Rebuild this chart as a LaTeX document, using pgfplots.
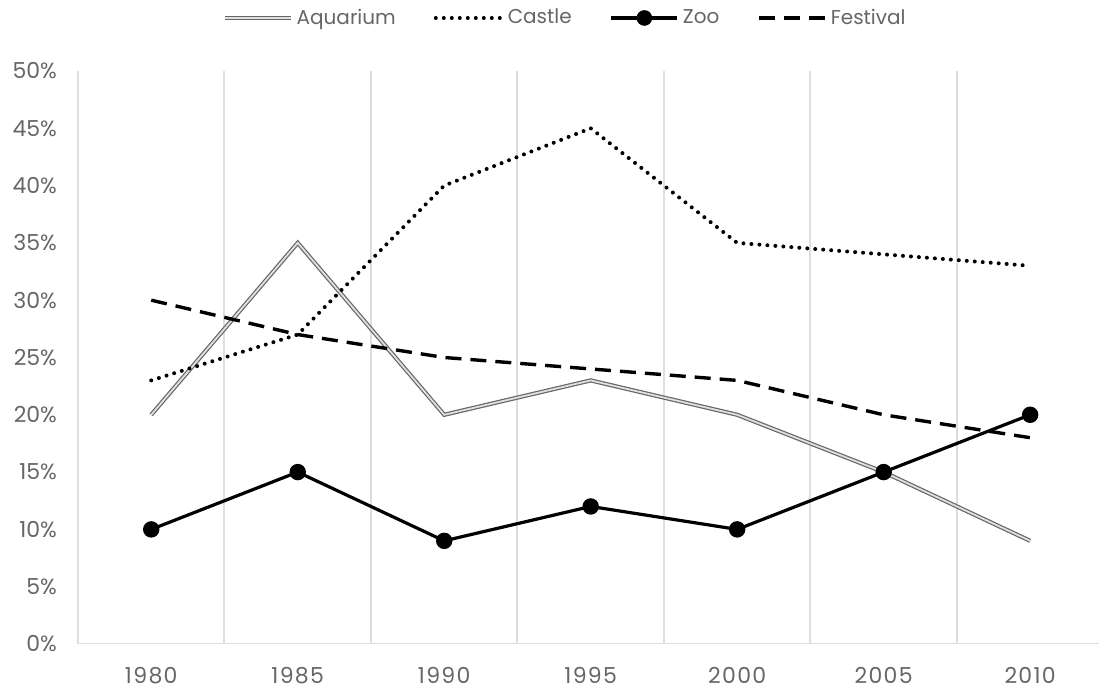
\documentclass[border=0pt]{standalone}
\usepackage{fontspec}
\setmainfont{Poppins}
\usepackage{pgfplots}
\pgfplotsset{compat=1.18}
\begin{document}
\begin{tikzpicture}
\useasboundingbox (0,0) rectangle (549.5pt,344pt);
\begin{axis}[
  at={(39pt,22pt)}, anchor=south west,
  scale only axis, width=510.5pt, height=286.5pt,
  xmin=-0.5, xmax=6.47, ymin=0, ymax=50,
  xtick={0,...,6},
  xticklabels={1980,1985,1990,1995,2000,2005,2010},
  minor xtick={-0.5,0.5,...,5.5},
  xminorgrids=true,
  minor grid style={black!13, line width=1pt},
  ytick={0,5,...,50},
  yticklabel={\pgfmathprintnumber{\tick}\%},
  /pgf/number format/assume math mode=true,
  axis line style={draw=none},
  tick style={draw=none},
  ticklabel style={font=\fontsize{11}{13}\selectfont, text=black!60},
  xticklabel style={yshift=-8pt, font=\fontsize{11}{13}\selectfont\addfontfeatures{LetterSpace=6}},
  yticklabel style={xshift=-7pt},
  legend style={at={(0.478,1.0925)}, anchor=center, draw=none,
    font=\fontsize{10}{12}\selectfont, text=black!60,
    /tikz/every even column/.append style={column sep=17pt}},
  legend columns=4,
  legend image code/.code={\draw[#1] (0pt,0pt) -- (33pt,0pt);},
  legend cell align=left,
]
\draw[black!13, line width=1pt] (rel axis cs:0,0) -- (rel axis cs:1,0);
\addplot[draw=black!60, line width=0.6pt, double=black!12, double distance=0.9pt, mark=none]
  coordinates {(0,20) (1,35) (2,20) (3,23) (4,20) (5,15) (6,9)};
\addlegendentry{Aquarium}
\addplot[black, line width=2pt, line cap=round, dash pattern=on 0pt off 4pt, mark=none]
  coordinates {(0,23) (1,27) (2,40) (3,45) (4,35) (5,34) (6,33)};
\addlegendentry{Castle}
\addplot[black, line width=1.6pt, mark=*, mark size=3.3pt,
  legend image code/.code={\draw[black, line width=1.6pt] (0pt,0pt) -- (33pt,0pt);
    \fill[black] (16.5pt,0pt) circle (3.1pt);}]
  coordinates {(0,10) (1,15) (2,9) (3,12) (4,10) (5,15) (6,20)};
\addlegendentry{Zoo}
\addplot[black, line width=1.7pt, dash pattern=on 8pt off 4.5pt, mark=none]
  coordinates {(0,30) (1,27) (2,25) (3,24) (4,23) (5,20) (6,18)};
\addlegendentry{Festival}
\end{axis}
\end{tikzpicture}
\end{document}
